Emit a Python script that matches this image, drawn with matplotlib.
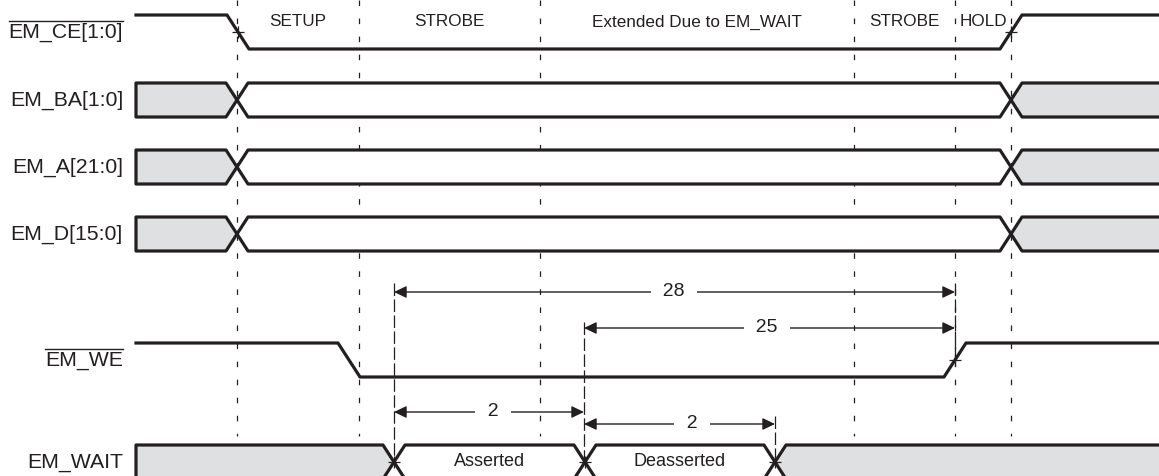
import matplotlib
matplotlib.use("Agg")
import matplotlib.pyplot as plt
from matplotlib.patches import Polygon

plt.rcParams['font.family'] = ['Liberation Sans', 'DejaVu Sans']
plt.rcParams['lines.scale_dashes'] = False

INK = '#231f20'
GREY = '#dfe0e2'

# phase boundaries (x) and names
phase_edges = [237, 359, 540, 854, 955, 1011]
phase_names = ["SETUP", "STROBE", "Extended Due to EM_WAIT", "STROBE", "HOLD"]

# signal names and their vertical centres
signal_names = ["EM_CE[1:0]", "EM_BA[1:0]", "EM_A[21:0]", "EM_D[15:0]", "EM_WE", "EM_WAIT"]
signal_y = [32, 100, 167, 234, 360, 462]
overlined = [True, False, False, False, True, False]

# bus signals: transition points and segment states (fill, label)
bus_rows = ["EM_BA[1:0]", "EM_A[21:0]", "EM_D[15:0]"]
bus_edges = [237, 1011]
bus_states = ["x", "v", "x"]
wait_edges = [394, 585, 775]
wait_states = ["x", "v", "v", "x"]
wait_labels = [None, "Asserted", "Deasserted", None]

# single-bit control signals: edges (start, end of ramp), marked with a cross
ce_edges = [(227, 249), (1000, 1022)]
ce_levels = ["H", "L", "H"]
ce_marks = [True, True]
we_edges = [(338, 360), (944, 966)]
we_levels = ["H", "L", "H"]
we_marks = [False, True]

# timing dimensions: (start, end, y, label, label_x)
dims = [(394, 955, 292, "28", 674),
        (584, 955, 328, "25", 767),
        (394, 584, 412, "2", 493),
        (584, 775, 424, "2", 692)]
# extension lines: (x, y0, y1)
ext_lines = [(394, 283, 462), (584, 322, 462), (955, 283, 362), (775, 416, 462)]

X0, X1 = 136, 1180
HW = 11      # half width of a bus transition
HALF = 17    # half height of a waveform


def draw_bus(ax, yc, edges, states, labels=None):
    top, bot = yc - HALF, yc + HALF
    bounds = [X0] + list(edges) + [X1]
    for i, st in enumerate(states):
        a, b = bounds[i], bounds[i + 1]
        pts = []
        if i == 0:
            pts += [(a, bot), (a, top)]
        else:
            pts += [(a, yc), (a + HW, top)]
        if i == len(states) - 1:
            pts += [(b, top), (b, bot)]
        else:
            pts += [(b - HW, top), (b, yc), (b - HW, bot)]
        if i != 0:
            pts += [(a + HW, bot)]
        fc = GREY if st == "x" else 'white'
        ax.add_patch(Polygon(pts, closed=True, facecolor=fc, edgecolor=INK,
                             lw=2.3, joinstyle='round', zorder=3))
        if labels and labels[i]:
            ax.text((a + b) / 2, yc, labels[i], ha='center', va='center',
                    fontsize=13, color=INK, zorder=5)


def draw_bit(ax, yc, edges, levels, marks):
    lev = {"H": yc - HALF, "L": yc + HALF}
    xs, ys = [X0], [lev[levels[0]]]
    for (e0, e1), l0, l1 in zip(edges, levels[:-1], levels[1:]):
        xs += [e0, e1]
        ys += [lev[l0], lev[l1]]
    xs.append(X1)
    ys.append(lev[levels[-1]])
    ax.plot(xs, ys, color=INK, lw=2.3, solid_joinstyle='round', zorder=3)
    for (e0, e1), m in zip(edges, marks):
        if m:
            ax.plot((e0 + e1) / 2, yc, marker='+', ms=9, mew=0.9, color=INK, zorder=4)


fig = plt.figure(figsize=(11.59, 4.76), dpi=100)
ax = fig.add_axes([0, 0, 1, 1])
ax.set_xlim(0, 1159)
ax.set_ylim(476, 0)
ax.axis('off')

# phase boundaries
for x in phase_edges:
    ax.plot([x, x], [0, 436], color=INK, lw=0.9, linestyle=(0, (4.0, 9.0)), zorder=1)
for a, b, name in zip(phase_edges[:-1], phase_edges[1:], phase_names):
    ax.text((a + b) / 2, 22, name, ha='center', va='center', fontsize=12.3,
            color=INK, zorder=5)

# signal labels
for name, y, ov in zip(signal_names, signal_y, overlined):
    t = ax.text(123, y, name, ha='right', va='center', fontsize=15.3, color=INK)
    if ov:
        fig.canvas.draw()
        bb = t.get_window_extent().transformed(ax.transData.inverted())
        ax.plot([bb.x0, bb.x1], [y - 11, y - 11], color=INK, lw=1.0)

# waveforms
draw_bit(ax, signal_y[0], ce_edges, ce_levels, ce_marks)
for name in bus_rows:
    draw_bus(ax, signal_y[signal_names.index(name)], bus_edges, bus_states)
draw_bit(ax, signal_y[4], we_edges, we_levels, we_marks)
draw_bus(ax, signal_y[5], wait_edges, wait_states, wait_labels)
for x in wait_edges:
    ax.plot(x, signal_y[5], marker='+', ms=9, mew=0.9, color=INK, zorder=4)

# extension lines
for x, y0, y1 in ext_lines:
    ax.plot([x, x], [y0, y1], color=INK, lw=0.9, linestyle=(0, (9.0, 2.5)), zorder=4)

# dimension arrows
for x0, x1, y, lab, lx in dims:
    ax.annotate('', xy=(x1, y), xytext=(x0, y),
                arrowprops=dict(arrowstyle='<|-|>,head_length=7.5,head_width=3.6',
                                mutation_scale=1, color=INK, lw=1.0,
                                shrinkA=0, shrinkB=0), zorder=4)
    ax.text(lx, y, "  " + lab + "  ", ha='center', va='center', fontsize=14,
            color=INK, zorder=5,
            bbox=dict(facecolor='white', edgecolor='none', pad=1))

fig.savefig('out.png', dpi=100)
